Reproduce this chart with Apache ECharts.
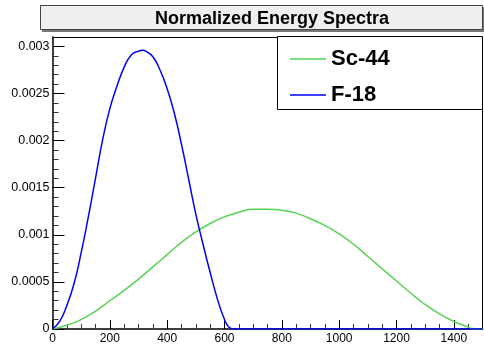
<!DOCTYPE html>
<html>
<head>
<meta charset="utf-8">
<title>Normalized Energy Spectra</title>
<script src="https://cdn.jsdelivr.net/npm/echarts@6/dist/echarts.min.js"></script>
<style>
  html, body {
    margin: 0;
    padding: 0;
    background: #fff;
  }
  #myChartsSpectra {
    width: 484px;
    height: 347px;
  }
</style>
</head>
<body>
<div id="myChartsSpectra"></div>
<script>
// energy (keV)
const f18Energy = [0, 25, 50, 75, 100, 125, 150, 175, 200, 225, 250, 275, 300, 315, 325, 350, 375, 400, 425, 450, 475, 500, 525, 550, 575, 600, 615, 630, 1500]
const f18Values = [0, 0.00008, 0.00025, 0.00048, 0.00081, 0.00119, 0.0016, 0.00201, 0.00234, 0.00258, 0.00278, 0.00291, 0.00295, 0.00296, 0.00295, 0.00289, 0.00275, 0.00255, 0.00229, 0.00196, 0.00159, 0.00122, 0.0009, 0.0006, 0.00032, 0.0001, 0.00002, 0, 0]

const sc44Energy = [0, 50, 100, 150, 200, 250, 300, 350, 400, 450, 500, 550, 600, 650, 700, 750, 800, 850, 900, 950, 1000, 1050, 1100, 1150, 1200, 1250, 1300, 1350, 1400, 1450, 1470, 1500]
const sc44Values = [0, 0.00004, 0.0001, 0.00019, 0.0003, 0.00041, 0.00053, 0.00066, 0.00079, 0.00092, 0.00103, 0.00112, 0.00119, 0.00124, 0.00127, 0.00127, 0.00126, 0.00123, 0.00117, 0.0011, 0.00101, 0.0009, 0.00077, 0.00064, 0.00051, 0.00038, 0.00026, 0.00016, 0.00008, 0.00002, 0, 0]

const seriesNames = ['Sc-44', 'F-18']
const titleText = 'Normalized Energy Spectra'

function pairs(xs, ys) {
  return xs.map((x, i) => [x, ys[i]])
}

const myChartsSpectra = echarts.init(document.getElementById('myChartsSpectra'))

const fontFamily = '"Liberation Sans", Arial, Helvetica, sans-serif'

// plain axes used only to draw the top and right frame lines
const frameAxis = {
  type: 'value',
  min: 0,
  max: 1,
  axisLine: { show: true, onZero: false, lineStyle: { color: '#000', width: 1 } },
  axisTick: { show: false },
  axisLabel: { show: false },
  splitLine: { show: false }
}

const optionSpectra = {
  animation: false,
  title: {
    text: titleText,
    left: 267,
    top: 5,
    textAlign: 'center',
    textStyle: {
      fontFamily: fontFamily,
      fontSize: 18,
      fontWeight: 'bold',
      color: '#000'
    }
  },
  graphic: [
    { // title box with shadow
      type: 'rect',
      shape: { x: 42, y: 7, width: 442, height: 25 },
      style: { fill: '#777' },
      z: -1
    },
    {
      type: 'rect',
      shape: { x: 40.5, y: 5.5, width: 442, height: 24 },
      style: { fill: '#efefef', stroke: '#444', lineWidth: 1 },
      z: 0
    },
    { // legend box
      type: 'rect',
      shape: { x: 277.5, y: 36.5, width: 205, height: 73 },
      style: { fill: '#fff', stroke: '#000', lineWidth: 1 },
      z: 20
    }
  ],
  legend: {
    data: seriesNames,
    orient: 'vertical',
    left: 285,
    top: 43,
    itemWidth: 36,
    itemHeight: 1.5,
    itemGap: 14,
    icon: 'rect',
    z: 30,
    textStyle: {
      fontFamily: fontFamily,
      fontSize: 22,
      fontWeight: 'bold',
      lineHeight: 22,
      color: '#000'
    }
  },
  grid: {
    left: 52.5,
    right: 1.5,
    top: 37,
    bottom: 18
  },
  xAxis: [
    {
      type: 'value',
      min: 0,
      max: 1500,
      interval: 200,
      position: 'bottom',
      splitLine: { show: false },
      axisLine: { show: true, onZero: false, lineStyle: { color: '#000', width: 1.5 } },
      axisTick: { show: true, inside: true, length: 9, lineStyle: { color: '#000' } },
      minorTick: { show: true, splitNumber: 4, length: 5, lineStyle: { color: '#333' } },
      axisLabel: {
        showMaxLabel: false,
        margin: 4,
        fontFamily: fontFamily,
        fontSize: 12,
        color: '#000',
        formatter: function (v) {
          return String(v)
        }
      }
    },
    Object.assign({ position: 'top' }, frameAxis)
  ],
  yAxis: [
    {
      type: 'value',
      min: 0,
      max: 0.0031,
      interval: 0.0005,
      position: 'left',
      splitLine: { show: false },
      axisLine: { show: true, onZero: false, lineStyle: { color: '#000', width: 1.5 } },
      axisTick: { show: true, inside: true, length: 12, lineStyle: { color: '#000' } },
      minorTick: { show: true, splitNumber: 5, length: 6, lineStyle: { color: '#333' } },
      axisLabel: {
        showMaxLabel: false,
        margin: 3,
        fontFamily: fontFamily,
        fontSize: 12.5,
        color: '#000',
        formatter: function (v) {
          return String(parseFloat(v.toPrecision(6)))
        }
      }
    },
    Object.assign({ position: 'right' }, frameAxis)
  ],
  series: [
    {
      name: 'Sc-44',
      type: 'line',
      data: pairs(sc44Energy, sc44Values),
      showSymbol: false,
      smooth: 0.5,
      lineStyle: { color: '#55d455', width: 1.5 },
      itemStyle: { color: '#55d455' },
      z: 3
    },
    {
      name: 'F-18',
      type: 'line',
      data: pairs(f18Energy, f18Values),
      showSymbol: false,
      smooth: 0.5,
      lineStyle: { color: '#0000ff', width: 1.5 },
      itemStyle: { color: '#0000ff' },
      z: 4
    }
  ]
}

myChartsSpectra.setOption(optionSpectra)
</script>
</body>
</html>
